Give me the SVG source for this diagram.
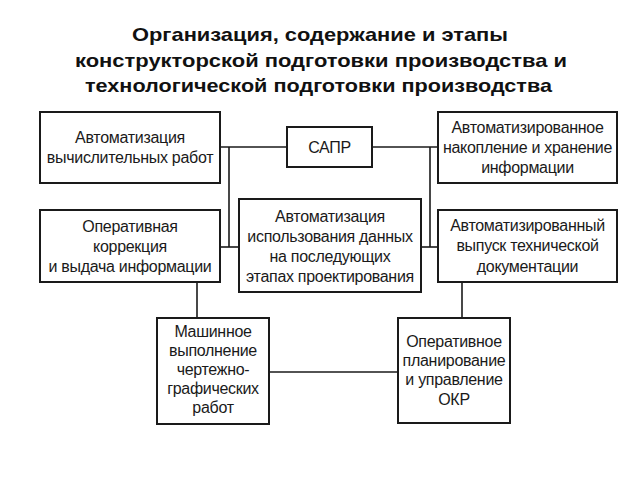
<svg xmlns="http://www.w3.org/2000/svg" width="640" height="480" viewBox="0 0 640 480">
<style>
.box{fill:#fff;stroke:#1a1a1a;stroke-width:2}
.ln{stroke:#1a1a1a;stroke-width:1.6;fill:none}
.t{font-family:"Liberation Sans",Arial,sans-serif;font-size:16px;letter-spacing:-0.3px;fill:#1a1a1a;text-anchor:middle}
.h{font-family:"Liberation Sans",Arial,sans-serif;font-size:19px;font-weight:bold;fill:#111;text-anchor:middle}
</style>
<rect width="640" height="480" fill="#fff"/>
<g id="title">
<text class="h" x="320" y="41" textLength="376" lengthAdjust="spacingAndGlyphs">Организация, содержание и этапы</text>
<text class="h" x="321" y="67" textLength="492" lengthAdjust="spacingAndGlyphs">конструкторской подготовки производства и</text>
<text class="h" x="318.5" y="92" textLength="467" lengthAdjust="spacingAndGlyphs">технологической подготовки производства</text>
</g>
<g id="connectors">
<line class="ln" x1="220" y1="147" x2="287" y2="147"/>
<line class="ln" x1="372" y1="147" x2="438" y2="147"/>
<line class="ln" x1="229" y1="147" x2="229" y2="247"/>
<line class="ln" x1="430" y1="147" x2="430" y2="247"/>
<line class="ln" x1="220" y1="247" x2="239" y2="247"/>
<line class="ln" x1="421" y1="247" x2="438" y2="247"/>
<line class="ln" x1="197" y1="282" x2="197" y2="318"/>
<line class="ln" x1="462" y1="282" x2="462" y2="318"/>
<line class="ln" x1="269" y1="372" x2="398" y2="372"/>
</g>
<g id="n1"><rect class="box" x="40" y="112" width="180" height="71"/>
<text class="t" x="130" y="143">Автоматизация</text><text class="t" x="130" y="163">вычислительных работ</text></g>
<g id="n2"><rect class="box" x="287" y="127" width="85" height="40"/>
<text class="t" x="329.5" y="153">САПР</text></g>
<g id="n3"><rect class="box" x="438" y="112" width="179" height="71"/>
<text class="t" x="527.5" y="133">Автоматизированное</text><text class="t" x="527.5" y="153">накопление и хранение</text><text class="t" x="527.5" y="173">информации</text></g>
<g id="n4"><rect class="box" x="40" y="210" width="180" height="72"/>
<text class="t" x="130" y="232">Оперативная</text><text class="t" x="130" y="252">коррекция</text><text class="t" x="130" y="272">и выдача информации</text></g>
<g id="n5"><rect class="box" x="239" y="199" width="182" height="93"/>
<text class="t" x="330" y="222">Автоматизация</text><text class="t" x="330" y="242">использования данных</text><text class="t" x="330" y="262">на последующих</text><text class="t" x="330" y="282">этапах проектирования</text></g>
<g id="n6"><rect class="box" x="438" y="210" width="179" height="72"/>
<text class="t" x="527.5" y="231">Автоматизированный</text><text class="t" x="527.5" y="251">выпуск технической</text><text class="t" x="527.5" y="272">документации</text></g>
<g id="n7"><rect class="box" x="157" y="318" width="112" height="106"/>
<text class="t" x="213" y="337">Машинное</text><text class="t" x="213" y="356">выполнение</text><text class="t" x="213" y="375">чертежно-</text><text class="t" x="213" y="394">графических</text><text class="t" x="213" y="413">работ</text></g>
<g id="n8"><rect class="box" x="398" y="318" width="112" height="105"/>
<text class="t" x="454" y="347">Оперативное</text><text class="t" x="454" y="366">планирование</text><text class="t" x="454" y="385">и управление</text><text class="t" x="454" y="405">ОКР</text></g>
</svg>
